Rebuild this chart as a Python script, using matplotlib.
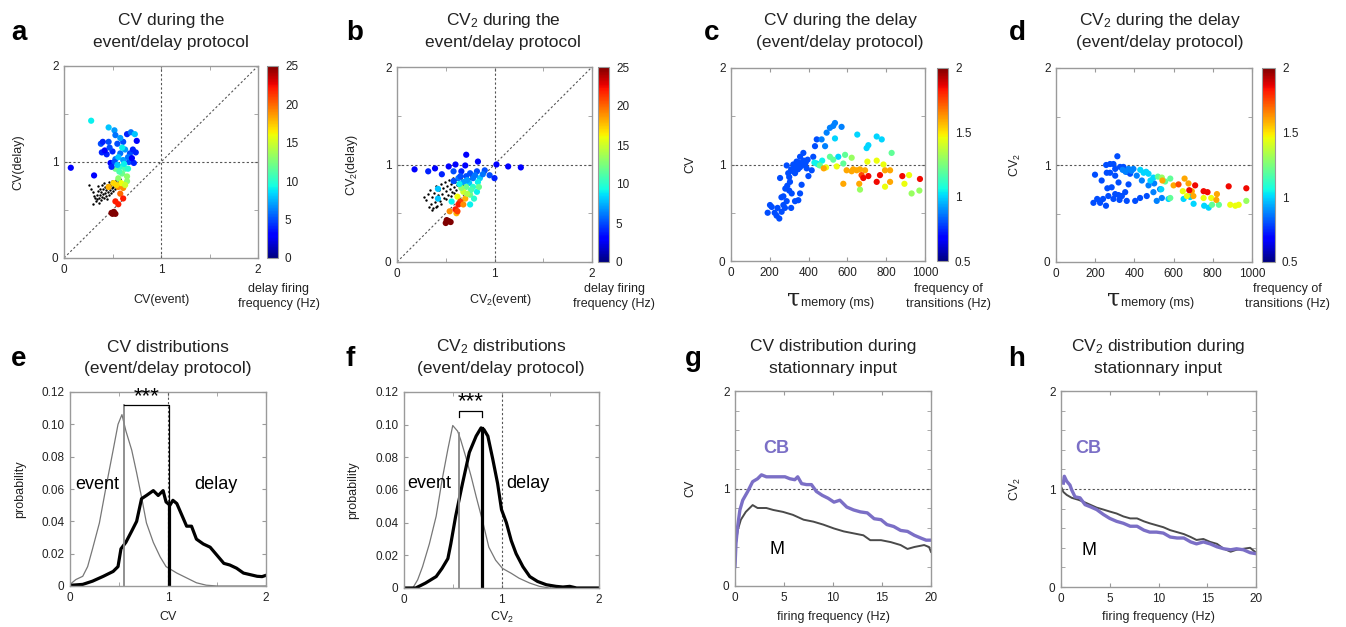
import matplotlib
matplotlib.use('Agg')
import matplotlib.pyplot as plt
import numpy as np
from matplotlib.ticker import FixedLocator, FixedFormatter

plt.rcParams['font.family'] = ['Liberation Sans', 'DejaVu Sans']
plt.rcParams['mathtext.default'] = 'regular'

# ---- panel a : CV(event) vs CV(delay), colour = delay firing rate (Hz)
a_pts = [(0.28, 1.43, 9), (0.07, 0.94, 3), (0.31, 0.86, 3), (0.46, 1.36, 8), (0.52, 1.33, 7),
         (0.38, 1.19, 5), (0.46, 1.21, 5), (0.53, 1.28, 6), (0.55, 1.19, 5), (0.61, 1.21, 5),
         (0.65, 1.29, 4), (0.69, 1.31, 6), (0.73, 1.29, 8), (0.75, 1.22, 3), (0.39, 1.10, 4),
         (0.44, 1.08, 4), (0.50, 1.11, 4), (0.58, 1.09, 6), (0.63, 1.13, 7), (0.68, 1.09, 5),
         (0.74, 1.10, 4), (0.48, 0.99, 3), (0.53, 1.03, 6), (0.56, 1.05, 8), (0.61, 1.02, 7),
         (0.67, 1.00, 5), (0.72, 0.99, 4), (0.53, 0.93, 12), (0.58, 0.95, 10), (0.63, 0.93, 11),
         (0.60, 0.88, 12), (0.65, 0.85, 13), (0.56, 0.83, 13), (0.65, 0.80, 13), (0.51, 0.78, 17),
         (0.46, 0.74, 18), (0.56, 0.74, 19), (0.61, 0.73, 19), (0.58, 0.67, 20), (0.61, 0.62, 22),
         (0.53, 0.59, 22), (0.56, 0.56, 22), (0.50, 0.46, 25), (0.53, 0.46, 25), (0.515, 0.48, 25),
         (0.49, 0.47, 25), (0.42, 1.12, 3), (0.47, 1.15, 5), (0.60, 1.15, 9), (0.66, 1.05, 6),
         (0.70, 1.04, 3), (0.52, 1.00, 5), (0.62, 0.98, 9), (0.57, 0.90, 11), (0.49, 0.95, 4),
         (0.55, 0.97, 8), (0.66, 0.93, 10), (0.59, 0.78, 16), (0.54, 0.76, 17), (0.63, 0.76, 15),
         (0.71, 1.13, 4), (0.58, 1.25, 7), (0.40, 1.21, 4)]
a_black = [(0.26, 0.76), (0.28, 0.72), (0.30, 0.69), (0.31, 0.65), (0.30, 0.56), (0.33, 0.59),
           (0.32, 0.62), (0.34, 0.66), (0.35, 0.70), (0.35, 0.75), (0.36, 0.63), (0.37, 0.66),
           (0.37, 0.72), (0.38, 0.60), (0.38, 0.69), (0.39, 0.64), (0.39, 0.76), (0.40, 0.67),
           (0.40, 0.72), (0.41, 0.62), (0.41, 0.78), (0.42, 0.68), (0.42, 0.74), (0.43, 0.65),
           (0.43, 0.71), (0.44, 0.61), (0.44, 0.76), (0.45, 0.69), (0.45, 0.73), (0.46, 0.66),
           (0.46, 0.79), (0.47, 0.71), (0.47, 0.75), (0.48, 0.68), (0.48, 0.77), (0.49, 0.73),
           (0.49, 0.80), (0.50, 0.70), (0.50, 0.76), (0.51, 0.74), (0.52, 0.79), (0.53, 0.72),
           (0.53, 0.77), (0.54, 0.81), (0.55, 0.75), (0.56, 0.79), (0.57, 0.77), (0.58, 0.82),
           (0.36, 0.57), (0.34, 0.61)]

# ---- panel b : CV2(event) vs CV2(delay)
b_pts = [(0.18, 0.95, 3), (0.32, 0.93, 4), (0.39, 0.96, 3), (0.46, 0.90, 4), (0.53, 0.98, 3),
         (0.60, 1.00, 3), (0.71, 1.10, 3), (0.70, 0.99, 3), (0.83, 1.03, 3), (1.02, 1.00, 3),
         (1.14, 0.98, 3), (1.27, 0.97, 3), (0.58, 0.93, 5), (0.66, 0.93, 4), (0.75, 0.91, 5),
         (0.82, 0.93, 5), (0.90, 0.94, 5), (0.95, 0.89, 5), (1.00, 0.86, 4), (0.63, 0.86, 6),
         (0.71, 0.88, 5), (0.78, 0.86, 6), (0.85, 0.86, 8), (0.68, 0.82, 7), (0.74, 0.81, 8),
         (0.83, 0.82, 9), (0.71, 0.77, 12), (0.78, 0.77, 10), (0.82, 0.72, 9), (0.68, 0.72, 15),
         (0.75, 0.69, 12), (0.70, 0.65, 18), (0.62, 0.67, 16), (0.56, 0.62, 9), (0.65, 0.62, 21),
         (0.63, 0.59, 22), (0.68, 0.59, 19), (0.75, 0.59, 9), (0.42, 0.75, 8), (0.42, 0.65, 8),
         (0.54, 0.52, 19), (0.61, 0.50, 18), (0.60, 0.54, 22), (0.62, 0.52, 21), (0.53, 0.42, 25),
         (0.50, 0.40, 25), (0.55, 0.41, 25), (0.51, 0.43, 25), (0.58, 0.83, 5), (0.65, 0.88, 5),
         (0.72, 0.84, 7), (0.80, 0.89, 6), (0.88, 0.90, 6), (0.76, 0.74, 11), (0.72, 0.70, 14),
         (0.66, 0.76, 13), (0.84, 0.77, 12), (0.64, 0.80, 9), (0.79, 0.65, 10)]
b_black = [(0.28, 0.67), (0.30, 0.64), (0.32, 0.70), (0.33, 0.56), (0.34, 0.74), (0.35, 0.60),
           (0.36, 0.67), (0.37, 0.55), (0.38, 0.71), (0.39, 0.62), (0.40, 0.78), (0.41, 0.57),
           (0.42, 0.69), (0.43, 0.74), (0.44, 0.63), (0.45, 0.80), (0.46, 0.70), (0.47, 0.76),
           (0.48, 0.66), (0.49, 0.82), (0.50, 0.73), (0.51, 0.78), (0.52, 0.69), (0.53, 0.84),
           (0.54, 0.75), (0.55, 0.80), (0.56, 0.72), (0.57, 0.86), (0.58, 0.77), (0.59, 0.82),
           (0.60, 0.74), (0.61, 0.85), (0.62, 0.79), (0.63, 0.88), (0.64, 0.81), (0.65, 0.76),
           (0.66, 0.86), (0.67, 0.83), (0.68, 0.79), (0.69, 0.88), (0.70, 0.84), (0.72, 0.87),
           (0.74, 0.85), (0.76, 0.88), (0.55, 0.68), (0.50, 0.65), (0.45, 0.60), (0.40, 0.56),
           (0.58, 0.71), (0.36, 0.53)]

# ---- panel c : tau_memory (ms) vs CV, colour = frequency of transitions (Hz)
c_pts = [(189, 0.50, 0.8), (201, 0.58, 0.8), (210, 0.56, 0.8), (235, 0.47, 0.8), (249, 0.44, 0.8),
         (261, 0.51, 0.8), (278, 0.55, 0.8), (287, 0.62, 0.8), (270, 0.67, 0.8), (253, 0.86, 0.8),
         (287, 0.99, 0.8), (295, 0.91, 0.8), (304, 0.82, 0.8), (313, 0.70, 0.8), (330, 0.62, 0.8),
         (347, 0.63, 0.8), (356, 0.70, 0.8), (364, 0.79, 0.8), (330, 0.91, 0.8), (321, 1.00, 0.8),
         (338, 1.03, 0.8), (356, 1.08, 0.8), (373, 1.12, 0.8), (364, 1.01, 0.8), (381, 1.00, 0.8),
         (390, 0.96, 0.8), (399, 0.88, 0.8), (416, 0.94, 0.8), (424, 1.08, 0.8), (433, 1.19, 0.8),
         (442, 1.26, 0.8), (310, 0.95, 0.8), (320, 0.93, 0.8), (330, 0.97, 0.8), (340, 0.99, 0.8),
         (345, 0.95, 0.8), (350, 1.02, 0.8), (355, 0.97, 0.8), (365, 0.99, 0.8), (375, 1.04, 0.8),
         (385, 1.02, 0.8), (395, 1.05, 0.8), (300, 0.87, 0.8), (290, 0.78, 0.8), (280, 0.75, 0.8),
         (300, 0.73, 0.8), (270, 0.58, 0.8), (260, 0.66, 0.8), (310, 0.55, 0.8), (240, 0.55, 0.8),
         (225, 0.50, 0.8), (467, 1.26, 0.88), (485, 1.19, 0.88), (493, 1.33, 0.88), (510, 1.38, 0.88),
         (527, 1.40, 0.88), (536, 1.43, 0.88), (570, 1.39, 0.88), (536, 1.27, 1.0), (442, 1.01, 1.0),
         (553, 1.08, 1.0), (651, 1.31, 1.0), (699, 1.17, 1.0), (708, 1.20, 1.0), (751, 1.29, 1.0),
         (777, 1.26, 1.0), (430, 1.02, 1.05), (450, 1.00, 1.05), (470, 1.04, 1.05), (458, 0.99, 1.2),
         (510, 1.08, 1.2), (527, 1.05, 1.2), (579, 1.01, 1.2), (588, 1.10, 1.2), (828, 1.12, 1.2),
         (622, 1.07, 1.3), (665, 0.74, 1.3), (931, 0.70, 1.3), (971, 0.73, 1.3), (545, 0.98, 1.45),
         (786, 1.00, 1.45), (751, 1.04, 1.45), (703, 1.03, 1.45), (794, 0.77, 1.45), (894, 0.80, 1.45),
         (918, 0.89, 1.45), (490, 0.97, 1.45), (478, 0.96, 1.6), (579, 0.80, 1.6), (596, 0.94, 1.6),
         (622, 0.93, 1.6), (648, 0.94, 1.6), (665, 0.95, 1.6), (691, 0.94, 1.6), (661, 0.80, 1.6),
         (820, 0.82, 1.6), (794, 0.94, 1.6), (820, 0.94, 1.6), (630, 0.95, 1.6), (673, 0.89, 1.75),
         (682, 0.86, 1.85), (708, 0.88, 1.85), (751, 0.82, 1.85), (768, 0.89, 1.85), (883, 0.88, 1.85),
         (974, 0.85, 1.85)]

# ---- panel d : tau_memory (ms) vs CV2
d_pts = [(191, 0.61, 0.8), (225, 0.61, 0.8), (255, 0.58, 0.8), (199, 0.90, 0.8), (233, 0.84, 0.8),
         (256, 1.00, 0.8), (276, 1.01, 0.8), (293, 1.01, 0.8), (313, 1.09, 0.8), (302, 0.96, 0.8),
         (259, 0.92, 0.8), (276, 0.92, 0.8), (302, 0.89, 0.8), (319, 0.82, 0.8), (262, 0.76, 0.8),
         (284, 0.77, 0.8), (302, 0.70, 0.8), (319, 0.69, 0.8), (267, 0.68, 0.8), (293, 0.65, 0.8),
         (324, 0.64, 0.8), (361, 0.63, 0.8), (336, 0.68, 0.8), (353, 0.72, 0.8), (370, 0.80, 0.8),
         (378, 0.91, 0.8), (361, 0.93, 0.8), (344, 0.98, 0.8), (327, 0.98, 0.8), (404, 0.63, 0.8),
         (429, 0.66, 0.8), (463, 0.68, 0.8), (240, 0.65, 0.8), (210, 0.65, 0.8), (395, 0.96, 0.88),
         (412, 0.89, 0.88), (438, 0.84, 0.88), (497, 0.72, 0.88), (514, 0.63, 0.88), (540, 0.66, 0.88),
         (472, 0.79, 0.88), (501, 0.81, 0.88), (531, 0.75, 0.88), (340, 0.95, 0.88), (355, 0.93, 0.88),
         (370, 0.96, 0.88), (385, 0.94, 0.88), (447, 0.92, 1.0), (472, 0.91, 1.0), (497, 0.87, 1.0),
         (482, 0.84, 1.0), (537, 0.75, 1.0), (651, 0.65, 1.0), (685, 0.67, 1.0), (702, 0.60, 1.0),
         (756, 0.58, 1.0), (779, 0.56, 1.0), (574, 0.65, 1.0), (430, 0.95, 1.0), (460, 0.93, 1.0),
         (557, 0.83, 1.2), (583, 0.86, 1.2), (583, 0.66, 1.2), (796, 0.59, 1.2), (831, 0.59, 1.2),
         (520, 0.88, 1.2), (540, 0.87, 1.3), (971, 0.63, 1.3), (668, 0.68, 1.45), (647, 0.73, 1.45),
         (753, 0.66, 1.45), (792, 0.66, 1.45), (889, 0.59, 1.45), (915, 0.58, 1.45), (932, 0.59, 1.45),
         (543, 0.84, 1.6), (600, 0.79, 1.6), (656, 0.86, 1.6), (676, 0.81, 1.6), (693, 0.73, 1.6),
         (701, 0.68, 1.6), (818, 0.64, 1.6), (821, 0.70, 1.6), (625, 0.80, 1.75), (680, 0.74, 1.85),
         (710, 0.79, 1.85), (753, 0.73, 1.85), (773, 0.72, 1.85), (881, 0.78, 1.85), (971, 0.76, 1.85)]

# ---- panel e : CV distributions
e_ev_x = [0, 0.06, 0.13, 0.18, 0.23, 0.30, 0.37, 0.44, 0.49, 0.53, 0.57, 0.63, 0.68, 0.73, 0.78,
          0.85, 0.92, 0.98, 1.09, 1.19, 1.29, 1.39, 1.50, 2.0]
e_ev_y = [0.001, 0.004, 0.006, 0.012, 0.023, 0.039, 0.062, 0.084, 0.100, 0.106, 0.096, 0.084,
          0.070, 0.055, 0.039, 0.027, 0.018, 0.012, 0.008, 0.005, 0.002, 0.0005, 0, 0]
e_de_x = [0, 0.13, 0.23, 0.34, 0.44, 0.49, 0.52, 0.57, 0.63, 0.68, 0.73, 0.78, 0.85, 0.90, 0.95,
          0.98, 1.02, 1.05, 1.09, 1.14, 1.19, 1.24, 1.29, 1.36, 1.43, 1.50, 1.57, 1.63, 1.70, 1.77,
          1.84, 1.91, 1.96, 2.0]
e_de_y = [0.0004, 0.001, 0.003, 0.006, 0.009, 0.012, 0.023, 0.027, 0.034, 0.040, 0.054, 0.056,
          0.059, 0.056, 0.059, 0.052, 0.050, 0.053, 0.051, 0.044, 0.037, 0.037, 0.029, 0.026,
          0.024, 0.019, 0.014, 0.013, 0.011, 0.008, 0.007, 0.006, 0.0058, 0.0066]
e_med = (0.547, 1.008)

# ---- panel f : CV2 distributions
f_ev_x = [0, 0.09, 0.14, 0.19, 0.26, 0.33, 0.39, 0.45, 0.50, 0.55, 0.58, 0.63, 0.69, 0.74, 0.81,
          0.87, 0.94, 1.01, 1.10, 1.18, 1.29, 1.39, 1.49, 2.0]
f_ev_y = [0, 0, 0.005, 0.013, 0.027, 0.044, 0.066, 0.085, 0.0995, 0.096, 0.091, 0.081, 0.068,
          0.056, 0.040, 0.025, 0.017, 0.012, 0.009, 0.006, 0.003, 0.001, 0, 0]
f_de_x = [0, 0.12, 0.22, 0.33, 0.39, 0.45, 0.48, 0.53, 0.60, 0.67, 0.74, 0.79, 0.82, 0.86, 0.91,
          0.96, 1.00, 1.05, 1.10, 1.15, 1.22, 1.29, 1.37, 1.46, 1.56, 1.63, 1.70, 1.77, 2.0]
f_de_y = [0, 0, 0.003, 0.007, 0.012, 0.018, 0.027, 0.044, 0.064, 0.083, 0.093, 0.098, 0.097,
          0.093, 0.079, 0.064, 0.048, 0.040, 0.029, 0.021, 0.013, 0.007, 0.004, 0.002, 0.001,
          0.0006, 0.001, 0, 0]
f_med = (0.56, 0.80)

# ---- panel g : CV vs firing frequency, stationary input
g_cb_x = [0, 0.1, 0.27, 0.5, 0.79, 1.3, 1.8, 2.3, 2.7, 3.2, 3.9, 4.6, 5.1, 5.6, 6.1, 6.4, 6.8, 7.3,
          7.8, 8.3, 8.9, 9.5, 10.1, 10.7, 11.4, 12.1, 12.8, 13.5, 14.2, 14.9, 15.5, 16.2, 16.9,
          17.6, 18.3, 19.0, 19.5, 20]
g_cb_y = [0.20, 0.44, 0.61, 0.78, 0.88, 0.97, 1.07, 1.10, 1.14, 1.12, 1.12, 1.12, 1.12, 1.10,
          1.09, 1.12, 1.05, 1.04, 1.04, 0.97, 0.93, 0.90, 0.86, 0.88, 0.81, 0.78, 0.76, 0.75, 0.69,
          0.68, 0.63, 0.61, 0.57, 0.56, 0.52, 0.49, 0.47, 0.47]
g_m_x = [0, 0.1, 0.27, 0.6, 1.1, 1.8, 2.3, 3.2, 3.9, 4.9, 5.9, 7.0, 8.0, 9.0, 10.1, 11.1, 12.1,
         13.1, 13.8, 14.9, 15.9, 16.9, 17.6, 18.3, 19.3, 19.8, 20]
g_m_y = [0.20, 0.44, 0.57, 0.68, 0.76, 0.83, 0.80, 0.80, 0.78, 0.76, 0.73, 0.68, 0.66, 0.63, 0.59,
         0.56, 0.54, 0.52, 0.47, 0.47, 0.45, 0.42, 0.38, 0.40, 0.42, 0.40, 0.35]

# ---- panel h : CV2 vs firing frequency, stationary input
h_cb_x = [0.24, 0.34, 0.58, 0.92, 1.1, 1.44, 1.95, 2.47, 2.98, 3.66, 4.35, 5.0, 5.7, 6.4, 7.1, 7.8,
          8.5, 9.1, 9.8, 10.5, 11.2, 11.9, 12.6, 13.3, 13.9, 14.6, 15.3, 16.0, 16.7, 17.4, 18.0,
          18.7, 19.4, 20]
h_cb_y = [1.06, 1.13, 1.08, 1.04, 0.99, 0.92, 0.91, 0.84, 0.82, 0.79, 0.74, 0.70, 0.67, 0.65, 0.62,
          0.62, 0.58, 0.56, 0.56, 0.55, 0.51, 0.50, 0.50, 0.46, 0.44, 0.46, 0.44, 0.41, 0.39, 0.38,
          0.39, 0.38, 0.35, 0.34]
h_m_x = [0.07, 0.24, 0.58, 1.1, 1.78, 2.3, 2.98, 3.66, 4.35, 5.0, 5.7, 6.4, 7.1, 7.8, 8.5, 9.1, 9.8,
         10.5, 11.2, 11.9, 12.6, 13.3, 13.9, 14.6, 15.3, 16.0, 16.7, 17.4, 18.0, 18.7, 19.4, 20]
h_m_y = [1.01, 0.97, 0.94, 0.91, 0.89, 0.87, 0.84, 0.81, 0.79, 0.77, 0.75, 0.72, 0.70, 0.70, 0.67,
         0.65, 0.63, 0.61, 0.58, 0.56, 0.54, 0.51, 0.48, 0.49, 0.46, 0.44, 0.39, 0.36, 0.38, 0.39,
         0.40, 0.35]

W, H = 1346, 627
fig = plt.figure(figsize=(W / 100, H / 100), dpi=100)

SPINE = '#9a9a9a'
DOT = dict(color='#555555', lw=0.8, ls=(0, (2, 2)))
PURPLE = '#7b6fc6'


def box(l, t, r, b):
    return fig.add_axes([l / W, 1 - b / H, (r - l) / W, (b - t) / H])


def ftext(x, y, s, **kw):
    kw.setdefault('ha', 'center')
    kw.setdefault('va', 'center')
    kw.setdefault('fontsize', 9)
    kw.setdefault('color', '#222222')
    fig.text(x / W, 1 - y / H, s, **kw)


def style(ax):
    for s in ax.spines.values():
        s.set_color(SPINE)
        s.set_linewidth(1)
    ax.tick_params(which='both', direction='in', color=SPINE, top=True, right=True,
                   labelsize=8.5, labelcolor='#222222', length=3, pad=4)


def cbar(sc, l, t, r, b, ticks, labels):
    cax = box(l, t, r, b)
    cb = fig.colorbar(sc, cax=cax)
    cb.set_ticks(ticks)
    cb.set_ticklabels(labels)
    cb.outline.set_edgecolor(SPINE)
    cax.tick_params(length=0, labelsize=8.5, labelcolor='#222222', pad=5)


def scatter_panel(rect, pts, black, vmax, xlab, ylab, cb_rect, ylx, xcen):
    ax = box(*rect)
    style(ax)
    ax.plot([0, 2], [0, 2], **DOT)
    ax.axvline(1, **DOT)
    ax.axhline(1, **DOT)
    x, y, f = zip(*pts)
    bx, by = zip(*black)
    ax.scatter(bx, by, s=3, c='black', lw=0, zorder=3)
    sc = ax.scatter(x, y, c=f, cmap='jet', vmin=0, vmax=vmax, s=20, lw=0, zorder=4)
    ax.set_xlim(0, 2)
    ax.set_ylim(0, 2)
    ax.set_xticks([0, 1, 2])
    ax.set_yticks([0, 1, 2])
    ax.xaxis.set_minor_locator(FixedLocator([0.5, 1.5]))
    ax.yaxis.set_minor_locator(FixedLocator([0.5, 1.5]))
    cbar(sc, *cb_rect, [0, 5, 10, 15, 20, 25], ['0', '5', '10', '15', '20', '25'])
    ftext(ylx, (rect[1] + rect[3]) / 2, ylab, rotation=90)
    ftext(xcen, 300, xlab)
    return ax


def tau_panel(rect, pts, ylab, cb_rect, ylx, tau_x):
    ax = box(*rect)
    style(ax)
    ax.axhline(1, **DOT)
    x, y, f = zip(*pts)
    sc = ax.scatter(x, y, c=f, cmap='jet', vmin=0.5, vmax=2, s=20, lw=0, zorder=4)
    ax.set_xlim(0, 1000)
    ax.set_ylim(0, 2)
    ax.set_xticks([0, 200, 400, 600, 800, 1000])
    ax.set_yticks([0, 1, 2])
    ax.yaxis.set_minor_locator(FixedLocator([0.5, 1.5]))
    cbar(sc, *cb_rect, [0.5, 1, 1.5, 2], ['0.5', '1', '1.5', '2'])
    ftext(ylx, (rect[1] + rect[3]) / 2, ylab, rotation=90)
    ftext(tau_x, 306, r'$\tau$', ha='right', va='baseline', fontsize=17,
          family='DejaVu Serif')
    ftext(tau_x + 1, 306, 'memory (ms)', ha='left', va='baseline')
    return ax


def dist_panel(rect, ev_x, ev_y, de_x, de_y, xlab, ev_pos, de_pos, ylx):
    ax = box(*rect)
    style(ax)
    ax.axvline(1, **DOT)
    ax.plot(ev_x, ev_y, color='#777777', lw=0.9)
    ax.plot(de_x, de_y, color='black', lw=2.3)
    ax.set_xlim(0, 2)
    ax.set_ylim(0, 0.12)
    ax.set_xticks([0, 1, 2])
    ax.xaxis.set_minor_locator(FixedLocator([0.5, 1.5]))
    yt = [0, 0.02, 0.04, 0.06, 0.08, 0.10, 0.12]
    ax.yaxis.set_major_locator(FixedLocator(yt))
    ax.yaxis.set_major_formatter(FixedFormatter(['0', '0.02', '0.04', '0.06', '0.08', '0.10', '0.12']))
    ax.text(ev_pos[0], ev_pos[1], 'event', fontsize=13, va='center', ha='left')
    ax.text(de_pos[0], de_pos[1], 'delay', fontsize=13, va='center', ha='left')
    ftext(ylx, (rect[1] + rect[3]) / 2, 'probability', rotation=90)
    ftext((rect[0] + rect[2]) / 2, 617, xlab)
    return ax


def rate_panel(rect, cbx, cby, mx, my, ylab, cb_pos, m_pos, ylx):
    ax = box(*rect)
    style(ax)
    ax.axhline(1, **DOT)
    ax.plot(mx, my, color='#4a4a4a', lw=1.4)
    ax.plot(cbx, cby, color=PURPLE, lw=2.4)
    ax.set_xlim(0, 20)
    ax.set_ylim(0, 2)
    ax.set_xticks([0, 5, 10, 15, 20])
    ax.set_yticks([0, 1, 2])
    ax.yaxis.set_minor_locator(FixedLocator(np.arange(0.2, 2.0, 0.2)))
    ax.text(cb_pos[0], cb_pos[1], 'CB', color=PURPLE, fontsize=13, fontweight='bold',
            va='center', ha='left')
    ax.text(m_pos[0], m_pos[1], 'M', color='black', fontsize=13, va='center', ha='left')
    ftext(ylx, (rect[1] + rect[3]) / 2, ylab, rotation=90)
    ftext((rect[0] + rect[2]) / 2, 617, 'firing frequency (Hz)')
    return ax


# top row
scatter_panel((64, 66, 258, 258), a_pts, a_black, 25, 'CV(event)', 'CV(delay)',
              (267, 66, 278, 258), 18, 161)
scatter_panel((397, 67, 592, 262), b_pts, b_black, 25, 'CV$_2$(event)', 'CV$_2$(delay)',
              (598, 67, 609, 262), 352, 500)
tau_panel((731, 68, 925, 261), c_pts, 'CV', (937, 68, 948, 261), 690, 800)
tau_panel((1056, 68, 1252, 262), d_pts, 'CV$_2$', (1262, 68, 1275, 262), 1015, 1120)

for xc in (279, 614):
    ftext(xc, 289, 'delay firing')
    ftext(xc, 304, 'frequency (Hz)')
for xc in (948, 1287):
    ftext(xc, 289, 'frequency of')
    ftext(xc, 304, 'transitions (Hz)')

# bottom row
ax_e = dist_panel((70, 392, 266, 586), e_ev_x, e_ev_y, e_de_x, e_de_y, 'CV',
                  (0.05, 0.063), (1.27, 0.063), 20)
ax_e.plot([e_med[0], e_med[0]], [0, 0.112], color='#888888', lw=1.3)
ax_e.plot([e_med[1], e_med[1]], [0, 0.051], color='black', lw=2.3)
ax_e.plot([e_med[1], e_med[1], e_med[0]], [0.051, 0.112, 0.112], color='black', lw=0.9)
ax_e.text(np.mean(e_med), 0.1105, '***', ha='center', va='bottom', fontsize=16)

ax_f = dist_panel((404, 392, 599, 588), f_ev_x, f_ev_y, f_de_x, f_de_y, 'CV$_2$',
                  (0.03, 0.064), (1.05, 0.064), 353)
ax_f.plot([f_med[0], f_med[0]], [0, 0.095], color='#888888', lw=1.3)
ax_f.plot([f_med[1], f_med[1]], [0, 0.098], color='black', lw=2.3)
ax_f.plot([f_med[0], f_med[0], f_med[1], f_med[1]], [0.105, 0.1085, 0.1085, 0.105],
          color='black', lw=0.9)
ax_f.text(np.mean(f_med), 0.1075, '***', ha='center', va='bottom', fontsize=16)

rate_panel((735, 391, 931, 586), g_cb_x, g_cb_y, g_m_x, g_m_y, 'CV', (2.85, 1.41), (3.5, 0.37), 690)
rate_panel((1061, 391, 1256, 587), h_cb_x, h_cb_y, h_m_x, h_m_y, 'CV$_2$', (1.44, 1.41), (2.1, 0.37), 1015)

# titles and panel letters
titles = [(171, 21, 'CV during the', 'event/delay protocol'),
          (503, 21, 'CV$_2$ during the', 'event/delay protocol'),
          (840, 21, 'CV during the delay', '(event/delay protocol)'),
          (1160, 21, 'CV$_2$ during the delay', '(event/delay protocol)'),
          (168, 347, 'CV distributions', '(event/delay protocol)'),
          (501, 347, 'CV$_2$ distributions', '(event/delay protocol)'),
          (833, 347, 'CV distribution during', 'stationnary input'),
          (1158, 347, 'CV$_2$ distribution during', 'stationnary input')]
for x, y, l1, l2 in titles:
    ftext(x, y, l1, fontsize=12.5)
    ftext(x, y + 22, l2, fontsize=12.5)

letters = [(11, 40, 'a'), (346, 40, 'b'), (704, 40, 'c'), (1009, 40, 'd'),
           (11, 366, 'e'), (346, 366, 'f'), (685, 366, 'g'), (1008, 366, 'h')]
for x, y, s in letters:
    ftext(x, y, s, ha='left', va='baseline', fontsize=20, fontweight='bold', color='black')

fig.savefig('out.png', dpi=100)
